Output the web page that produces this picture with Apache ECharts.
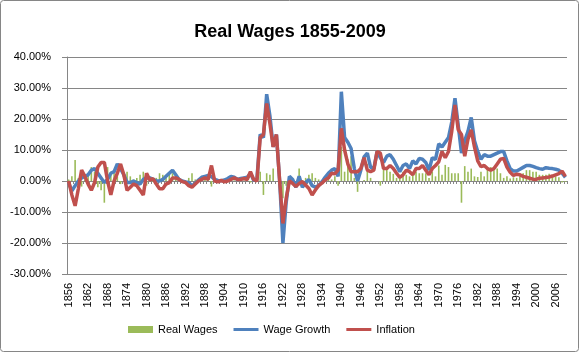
<!DOCTYPE html>
<html>
<head>
<meta charset="utf-8">
<script src="https://cdn.jsdelivr.net/npm/echarts@6/dist/echarts.min.js"></script>
<style>
html, body { margin: 0; padding: 0; background: #fff; }
#chart { width: 580px; height: 353px; }
</style>
</head>
<body>
<div id="chart"></div>
<script>
// categories: every year 1856..2009
var years = [];
for (var y = 1856; y <= 2009; y++) years.push(String(y));

// real wages (%)
var realWages = [
    0.5, 1.5, 6.8, 1,
    -1.8, 0.5, 2, 4.5, 3, -2, -3, -7, 4.5, 3,
    3, 1.5, -1, 0, 3, 1.5, 0.5, 1, 2, 3,
    -1.5, 0.7, -0.3, 1, 2.5, 2, 1.5, 2.5, 2.5, 1,
    0, 0.2, 0.3, 1, 2.5, 0.5, 0.3, 0.7, 0.5, 1.3,
    -1.8, 0.5, 0.5, -0.1, 0.6, 0.8, 1, 0.2, 0, 0.3,
    0.2, 0.7, -0.5, 0.7, 1, 3, -4.5, 2.5, 2, 4,
    0, 0, -5.6, -1.5, 1.5, 0.5, 0, 4, 0.3, 1,
    2, 2.5, 1, 0.5, 0.2, 0.8, 1, 0.5, 1.5, -1.5,
    11, 3, 7, 8, 1, -3.5, 0, 0.3, 5.5, 1,
    0, 0, -1.5, 4.5, 4.5, 3, 2.3, 1, 1, 3,
    2, 1.5, 2.5, 3, 2.5, 2.5, 2.5, 1, 3, 1.5,
    5, 2, 5.2, 4.5, 2.5, 2.5, 2.5, -7, 4.8, 3,
    4, 1.5, 1.3, 3, 1.5, 4.5, 4.5, 3.5, 4, 2.5,
    1, 1.5, 0.8, 1.2, 1, 1.5, 2.5, 3.5, 3.5, 3,
    3, 2, 2, 2, 2.3, 2, 1.5, 1.2, -0.5, -0.3
];

// wage growth (%)
var wageGrowth = [
    -0.5, -3.2, -1.5, 0,
    1, 1.5, 2, 3.5, 4, 2.5, 1, -0.5, 0.5, 2.5,
    3, 5.5, 4, 2, -0.5, -0.5, 0, -0.5, -1, 0.5,
    1, 1, 0.5, 0, 0, 0.5, 1.5, 2.5, 3.5, 2,
    0.5, 0, -0.3, -0.5, -1.5, -0.8, 0.3, 1.2, 1.5, 1.8,
    1.4, 0.5, 0.2, 0.1, 0.3, 0.8, 1.5, 1.2, 0.5, 0.8,
    1, 1.2, 2.5, 0.2, 0.5, 15, 14, 28, 21, 11,
    15, 0, -20, -7, 1.5, 0.5, -2, 1.5, -2, -0.5,
    0.5, -1.5, -2, -1.5, -0.3, 1.2, 2.5, 3.5, 4, 1.5,
    28.8, 14, 12.5, 10.5, 4, 0, 3.5, 7.8, 9, 4.5,
    4, 9.5, 7.5, 6, 8, 8.5, 7, 5, 3, 5,
    5.5, 4, 6.5, 5.5, 7.3, 7, 6, 3.5, 7.5, 7,
    12, 11, 12.5, 14, 19, 26.7, 18, 9, 13, 16,
    20.5, 13, 9.5, 7, 8.5, 8, 8, 8.5, 9, 9.5,
    9.5, 6.5, 4, 3.2, 3.2, 3.8, 4.4, 5, 5, 4.7,
    4.3, 4, 3.8, 4.3, 4.1, 4, 3.8, 3.5, 2.5, 1.2
];

// inflation (%)
var inflation = [
    0, -4.5, -8, -2.5,
    3.5, 1.5, -1, -3, -0.5, 4.5, 6, 6, 0, -4.5,
    0, 2.5, 5.5, 2, -3, -2, -1, -1.5, -3, -4.5,
    2.5, 0.3, 0.8, -1, -2.5, -2.5, -1, -0.5, 1, 1,
    0.5, -0.2, -0.5, -1.5, -2, -1, 0, 0.5, 1, 0.5,
    5, 0, -0.3, 0.2, -0.3, 0, 0.5, 1, 0.5, 0.5,
    0.8, 0.5, 3, 0.5, 0, 14, 15, 25, 18.5, 11,
    15, 0, -13.7, -5.6, 0, -0.8, -1.8, -0.8, -0.2, -1.3,
    -2.4, -4.5, -2.9, -1.5, -0.7, 0.3, 1, 2.5, 2.3, 3.5,
    17, 10, 5.5, 3, 3, 3, 4, 7.5, 3.5, 3,
    3.5, 9.5, 9, 4, 4, 5, 4, 2.5, 1.2, 2,
    3.5, 3, 2, 4, 4, 5, 3.5, 2, 4, 5,
    6.2, 9.5, 7.5, 9.5, 16, 24.5, 16.5, 15, 8, 13.5,
    16.5, 11, 6.5, 4.6, 5, 4, 3.5, 4, 5.5, 7,
    7.3, 4.5, 2.8, 1.8, 2.2, 2, 1.5, 1.2, 0.9, 0.6,
    0.5, 0.9, 1, 1.1, 1.3, 1.6, 2, 2.4, 3.2, 1.5
];

var font = '"Liberation Sans", Arial, sans-serif';
var gray = '#868686';
// thin bar used as legend icon for the two lines
var lineIcon = 'path://M0,0L25,0L25,3L0,3Z';

var myChart = echarts.init(document.getElementById('chart'));
var option = {
    animation: false,
    title: {
        text: 'Real Wages 1855-2009',
        left: 'center',
        top: 18,
        textStyle: { fontFamily: font, fontSize: 18, fontWeight: 'bold', color: '#000' }
    },
    legend: {
        left: 123,
        bottom: 13,
        itemWidth: 25,
        itemHeight: 7,
        itemGap: 16,
        textStyle: { fontFamily: font, fontSize: 11, color: '#000' },
        data: [
            { name: 'Real Wages', icon: 'rect' },
            { name: 'Wage Growth', icon: lineIcon },
            { name: 'Inflation', icon: lineIcon }
        ]
    },
    graphic: [{
        type: 'rect',
        shape: { x: 0.5, y: 0.5, width: 578, height: 351, r: 3 },
        style: { fill: 'none', stroke: gray, lineWidth: 1 }
    }],
    grid: { left: 67, right: 13, top: 57, bottom: 79 },
    xAxis: [
        {
            // axis line and ticks sitting on zero
            type: 'category',
            data: years,
            boundaryGap: true,
            axisLine: { onZero: true, lineStyle: { color: gray } },
            axisTick: { show: true, interval: 0, length: 3, lineStyle: { color: gray } },
            axisLabel: { show: false },
            splitLine: { show: false }
        },
        {
            // labels at the bottom
            type: 'category',
            data: years,
            position: 'bottom',
            boundaryGap: true,
            axisLine: { show: false, onZero: false },
            axisTick: { show: false },
            axisLabel: {
                interval: 5,
                rotate: 90,
                margin: 9,
                fontFamily: font,
                fontSize: 11,
                color: '#000'
            }
        }
    ],
    yAxis: {
        type: 'value',
        min: -30,
        max: 40,
        interval: 10,
        axisLine: { show: true, lineStyle: { color: gray } },
        axisTick: { show: true, length: 5, lineStyle: { color: gray } },
        axisLabel: {
            margin: 16,
            fontFamily: font,
            fontSize: 11,
            color: '#000',
            formatter: function (v) { return v.toFixed(2) + '%'; }
        },
        splitLine: { lineStyle: { color: gray } }
    },
    series: [
        {
            name: 'Real Wages',
            type: 'bar',
            xAxisIndex: 0,
            barWidth: 1.6,
            itemStyle: { color: '#9BBB59' },
            data: realWages
        },
        {
            name: 'Wage Growth',
            type: 'line',
            xAxisIndex: 0,
            symbol: 'none',
            lineStyle: { color: '#4F81BD', width: 3.5 },
            itemStyle: { color: '#4F81BD' },
            data: wageGrowth
        },
        {
            name: 'Inflation',
            type: 'line',
            xAxisIndex: 0,
            symbol: 'none',
            lineStyle: { color: '#C0504D', width: 3.5 },
            itemStyle: { color: '#C0504D' },
            data: inflation
        }
    ]
};
myChart.setOption(option);
</script>
</body>
</html>
